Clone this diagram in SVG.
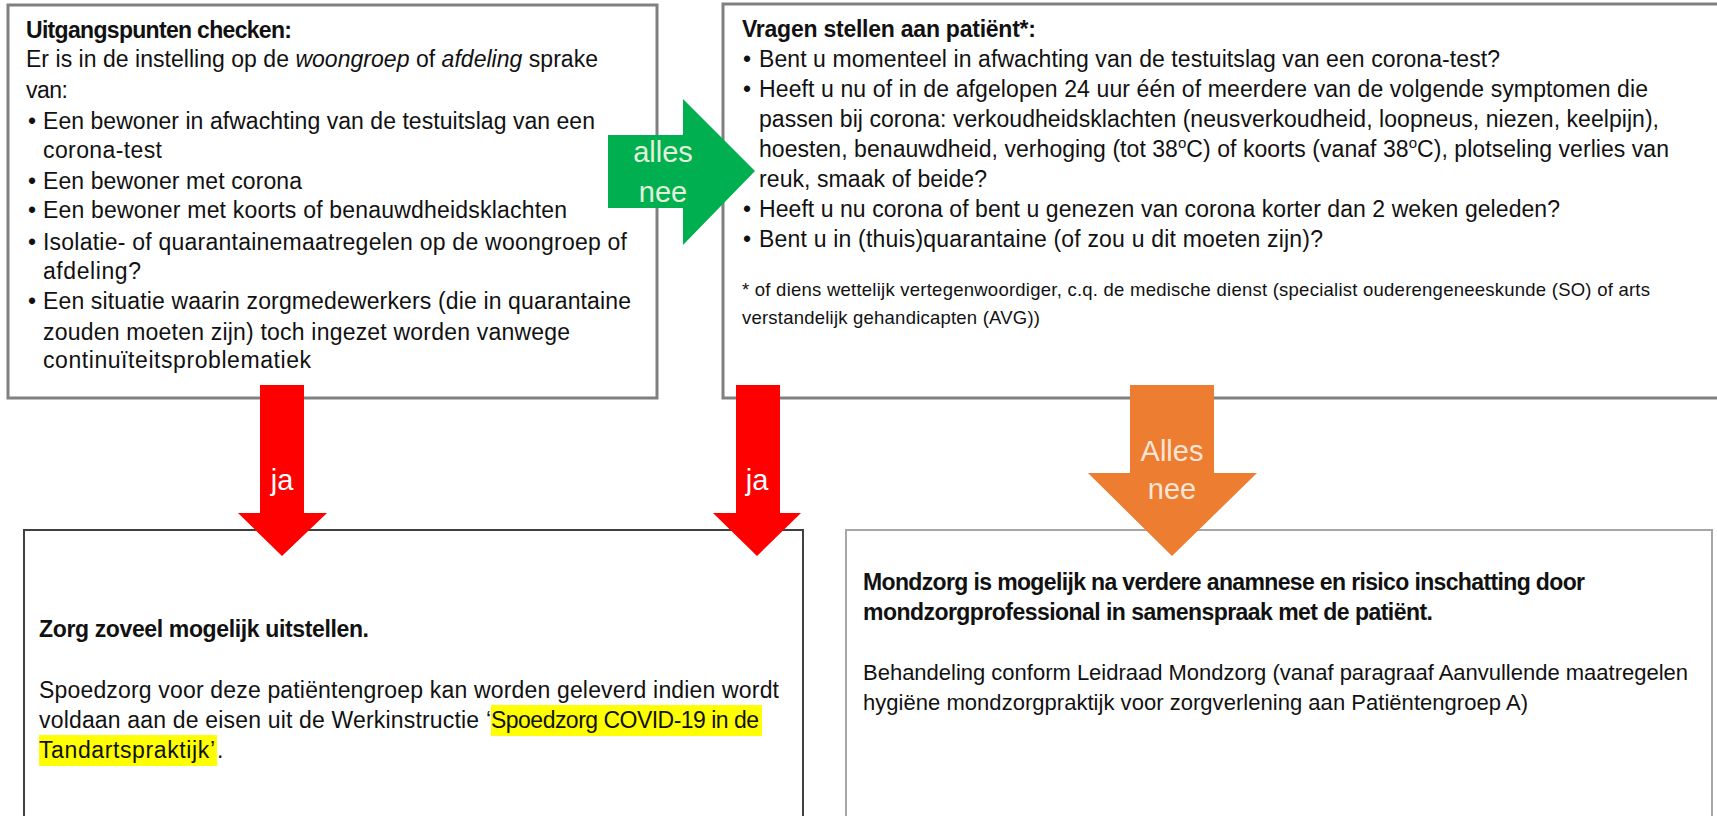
<svg xmlns="http://www.w3.org/2000/svg" width="1717" height="816" viewBox="0 0 1717 816">
<style>
  .box1 { fill: #ffffff; stroke: #808080; stroke-width: 3; }
  .box3 { fill: #ffffff; stroke: #404040; stroke-width: 2; }
  .box4 { fill: #ffffff; stroke: #a6a6a6; stroke-width: 2; }
  text { font-family: "Liberation Sans", Arial, sans-serif; fill: #111111; }
  .t { font-size: 23px; }
  .b { font-size: 23px; font-weight: bold; }
  .fn { font-size: 18.5px; }
  .t4 { font-size: 22px; }
  .lbl { font-size: 29px; text-anchor: middle; }
  .lg { fill: #e2f0d9; }
  .lr { fill: #ffffff; }
  .lo { fill: #fbe5d6; }
  .green { fill: #00b050; }
  .red { fill: #ff0000; }
  .orange { fill: #ed7d31; }
  .hl { fill: #ffff00; }
</style>

<g id="node-checks">
  <rect class="box1" x="8" y="5" width="649" height="393"/>
  <text class="b" x="26" y="38" textLength="266">Uitgangspunten checken:</text>
  <text class="t" x="26" y="67" textLength="572">Er is in de instelling op de <tspan font-style="italic">woongroep</tspan> of <tspan font-style="italic">afdeling</tspan> sprake</text>
  <text class="t" x="26" y="98" textLength="42">van:</text>
  <text class="t" x="28" y="129">•</text>
  <text class="t" x="43" y="129" textLength="552">Een bewoner in afwachting van de testuitslag van een</text>
  <text class="t" x="43" y="158" textLength="119">corona-test</text>
  <text class="t" x="28" y="189">•</text>
  <text class="t" x="43" y="189" textLength="259">Een bewoner met corona</text>
  <text class="t" x="28" y="218">•</text>
  <text class="t" x="43" y="218" textLength="524">Een bewoner met koorts of benauwdheidsklachten</text>
  <text class="t" x="28" y="250">•</text>
  <text class="t" x="43" y="250" textLength="584">Isolatie- of quarantainemaatregelen op de woongroep of</text>
  <text class="t" x="43" y="279" textLength="98">afdeling?</text>
  <text class="t" x="28" y="309">•</text>
  <text class="t" x="43" y="309" textLength="588">Een situatie waarin zorgmedewerkers (die in quarantaine</text>
  <text class="t" x="43" y="340" textLength="527">zouden moeten zijn) toch ingezet worden vanwege</text>
  <text class="t" x="43" y="368" textLength="268">continuïteitsproblematiek</text>
</g>

<g id="node-questions">
  <rect class="box1" x="723" y="4" width="1010" height="394"/>
  <text class="b" x="742" y="37" textLength="294">Vragen stellen aan patiënt*:</text>
  <text class="t" x="743" y="67">•</text>
  <text class="t" x="759" y="67" textLength="741">Bent u momenteel in afwachting van de testuitslag van een corona-test?</text>
  <text class="t" x="743" y="97">•</text>
  <text class="t" x="759" y="97" textLength="889">Heeft u nu of in de afgelopen 24 uur één of meerdere van de volgende symptomen die</text>
  <text class="t" x="759" y="127" textLength="900">passen bij corona: verkoudheidsklachten (neusverkoudheid, loopneus, niezen, keelpijn),</text>
  <text class="t" x="759" y="157" textLength="910">hoesten, benauwdheid, verhoging (tot 38<tspan font-size="15" dy="-9">o</tspan><tspan dy="9">C) of koorts (vanaf 38</tspan><tspan font-size="15" dy="-9">o</tspan><tspan dy="9">C), plotseling verlies van</tspan></text>
  <text class="t" x="759" y="187" textLength="228">reuk, smaak of beide?</text>
  <text class="t" x="743" y="217">•</text>
  <text class="t" x="759" y="217" textLength="801">Heeft u nu corona of bent u genezen van corona korter dan 2 weken geleden?</text>
  <text class="t" x="743" y="247">•</text>
  <text class="t" x="759" y="247" textLength="564">Bent u in (thuis)quarantaine (of zou u dit moeten zijn)?</text>
  <text class="fn" x="742" y="296" textLength="908">* of diens wettelijk vertegenwoordiger, c.q. de medische dienst (specialist ouderengeneeskunde (SO) of arts</text>
  <text class="fn" x="742" y="324" textLength="298">verstandelijk gehandicapten (AVG))</text>
</g>

<g id="node-postpone">
  <rect class="box3" x="24" y="530" width="779" height="320"/>
  <text class="b" x="39" y="637" textLength="330">Zorg zoveel mogelijk uitstellen.</text>
  <text class="t" x="39" y="698" textLength="740">Spoedzorg voor deze patiëntengroep kan worden geleverd indien wordt</text>
  <rect class="hl" x="491" y="705" width="271" height="31"/>
  <rect class="hl" x="39" y="735" width="178" height="31"/>
  <text class="t" x="39" y="728" textLength="452">voldaan aan de eisen uit de Werkinstructie ‘</text>
  <text class="t" x="491" y="728" textLength="268">Spoedzorg COVID-19 in de</text>
  <text class="t" x="39" y="758" textLength="176">Tandartspraktijk’</text>
  <text class="t" x="217" y="758">.</text>
</g>

<g id="node-mondzorg">
  <rect class="box4" x="846" y="530" width="866" height="320"/>
  <text class="b" x="863" y="590" textLength="722">Mondzorg is mogelijk na verdere anamnese en risico inschatting door</text>
  <text class="b" x="863" y="620" textLength="570">mondzorgprofessional in samenspraak met de patiënt.</text>
  <text class="t4" x="863" y="680" textLength="825">Behandeling conform Leidraad Mondzorg (vanaf paragraaf Aanvullende maatregelen</text>
  <text class="t4" x="863" y="710" textLength="665">hygiëne mondzorgpraktijk voor zorgverlening aan Patiëntengroep A)</text>
</g>

<g id="connectors">
  <g id="arrow-alles-nee-right">
    <polygon class="green" points="608,135 683,135 683,99 755,171 683,245 683,208 608,208"/>
    <text class="lbl lg" x="663" y="162">alles</text>
    <text class="lbl lg" x="663" y="202">nee</text>
  </g>
  <g id="arrow-ja-left">
    <polygon class="red" points="260,385 304,385 304,513 327,513 282,556 238,513 260,513"/>
    <text class="lbl lr" x="282" y="490" font-size="27">ja</text>
  </g>
  <g id="arrow-ja-right">
    <polygon class="red" points="736,385 780,385 780,513 801,513 757,556 713,513 736,513"/>
    <text class="lbl lr" x="757" y="490" font-size="27">ja</text>
  </g>
  <g id="arrow-alles-nee-down">
    <polygon class="orange" points="1130,385 1214,385 1214,473 1257,473 1172,556 1088,473 1130,473"/>
    <text class="lbl lo" x="1172" y="461">Alles</text>
    <text class="lbl lo" x="1172" y="499">nee</text>
  </g>
</g>
</svg>
